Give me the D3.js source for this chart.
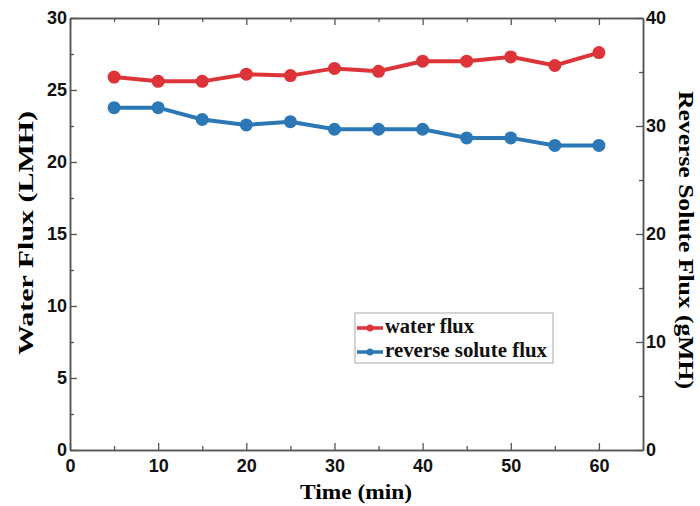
<!DOCTYPE html>
<html>
<head>
<meta charset="utf-8">
<script src="https://cdn.jsdelivr.net/npm/d3@7"></script>
<style>
  body { margin: 0; background: #fff; }
</style>
</head>
<body>
<div id="container"></div>
<script>
// data
const times      = [5, 10, 15, 20, 25, 30, 35, 40, 45, 50, 55, 60];
const waterFlux  = [25.9, 25.6, 25.6, 26.1, 26.0, 26.5, 26.3, 27.0, 27.0, 27.3, 26.7, 27.6];
const soluteFlux = [31.7, 31.7, 30.6, 30.1, 30.4, 29.7, 29.7, 29.7, 28.9, 28.9, 28.2, 28.2];
const xTicks     = [0, 10, 20, 30, 40, 50, 60];
const yLeftTicks = [0, 5, 10, 15, 20, 25, 30];
const yRightTicks = [0, 10, 20, 30, 40];

const width = 700, height = 506;
const margin = { top: 18, right: 57, bottom: 56, left: 70 };
const red  = "#dc3439";
const blue = "#2c77b5";
const axisColor = "#555";

const svg = d3.select("#container").append("svg")
    .attr("width", width)
    .attr("height", height);

const x = d3.scaleLinear().domain([0, 65])
    .range([margin.left, width - margin.right]);
const yL = d3.scaleLinear().domain([0, 30])
    .range([height - margin.bottom, margin.top]);
const yR = d3.scaleLinear().domain([0, 40])
    .range([height - margin.bottom, margin.top]);

// axes: inward ticks, majors labelled, minors in between
function styleAxis(g) {
  g.select(".domain").attr("stroke", axisColor).attr("stroke-width", 1.5);
  g.selectAll(".tick line").attr("stroke", axisColor).attr("stroke-width", 1.3);
  g.selectAll("text")
    .attr("font-family", "Liberation Sans, Arial, sans-serif")
    .attr("font-weight", "bold")
    .attr("font-size", 18)
    .attr("fill", "#111");
}

const xMinor = d3.range(5, 65, 10);
svg.append("g")
    .attr("transform", `translate(0,${height - margin.bottom})`)
    .call(d3.axisBottom(x).tickValues(xTicks).tickSize(-7).tickSizeOuter(0).tickPadding(9))
    .call(styleAxis);
svg.append("g")
    .attr("transform", `translate(0,${height - margin.bottom})`)
    .call(d3.axisBottom(x).tickValues(xMinor).tickSize(-4).tickFormat("").tickSizeOuter(0))
    .call(styleAxis);

svg.append("g")
    .attr("transform", `translate(0,${margin.top})`)
    .call(d3.axisTop(x).tickValues(xTicks).tickSize(-7).tickFormat("").tickSizeOuter(0))
    .call(styleAxis);
svg.append("g")
    .attr("transform", `translate(0,${margin.top})`)
    .call(d3.axisTop(x).tickValues(xMinor).tickSize(-4).tickFormat("").tickSizeOuter(0))
    .call(styleAxis);

svg.append("g")
    .attr("transform", `translate(${margin.left},0)`)
    .call(d3.axisLeft(yL).tickValues(yLeftTicks).tickSize(-7).tickSizeOuter(0).tickPadding(3))
    .call(styleAxis);
svg.append("g")
    .attr("transform", `translate(${margin.left},0)`)
    .call(d3.axisLeft(yL).tickValues(d3.range(2.5, 30, 5)).tickSize(-4).tickFormat("").tickSizeOuter(0))
    .call(styleAxis);

svg.append("g")
    .attr("transform", `translate(${width - margin.right},0)`)
    .call(d3.axisRight(yR).tickValues(yRightTicks).tickSize(-7).tickSizeOuter(0).tickPadding(3))
    .call(styleAxis);
svg.append("g")
    .attr("transform", `translate(${width - margin.right},0)`)
    .call(d3.axisRight(yR).tickValues(d3.range(5, 40, 10)).tickSize(-4).tickFormat("").tickSizeOuter(0))
    .call(styleAxis);

// axis titles (glyphs stretched along the baseline, as in the source)
const serif = "Liberation Serif, Times New Roman, serif";
svg.append("text")
    .attr("x", 356)
    .attr("y", 499)
    .attr("text-anchor", "middle")
    .attr("font-family", serif).attr("font-weight", "bold").attr("font-size", 21)
    .attr("textLength", 112).attr("lengthAdjust", "spacingAndGlyphs")
    .text("Time (min)");

svg.append("text")
    .attr("transform", "translate(33,233) rotate(-90)")
    .attr("text-anchor", "middle")
    .attr("font-family", serif).attr("font-weight", "bold").attr("font-size", 21)
    .attr("textLength", 244).attr("lengthAdjust", "spacingAndGlyphs")
    .text("Water Flux (LMH)");

svg.append("text")
    .attr("transform", "translate(679,240) rotate(90)")
    .attr("text-anchor", "middle")
    .attr("font-family", serif).attr("font-weight", "bold").attr("font-size", 21)
    .attr("textLength", 298).attr("lengthAdjust", "spacingAndGlyphs")
    .text("Reverse Solute Flux (gMH)");

// series
const series = [
  { name: "water flux", values: waterFlux, y: yL, color: red },
  { name: "reverse solute flux", values: soluteFlux, y: yR, color: blue }
];

series.forEach(s => {
  const pts = times.map((t, i) => [t, s.values[i]]);
  svg.append("path")
      .datum(pts)
      .attr("fill", "none")
      .attr("stroke", s.color)
      .attr("stroke-width", 4)
      .attr("d", d3.line().x(d => x(d[0])).y(d => s.y(d[1])));
  svg.append("g").selectAll("circle")
    .data(pts)
    .join("circle")
      .attr("cx", d => x(d[0]))
      .attr("cy", d => s.y(d[1]))
      .attr("r", 6.5)
      .attr("fill", s.color);
});

// legend
const legend = svg.append("g").attr("transform", "translate(355,313)");
legend.append("rect")
    .attr("width", 198).attr("height", 50)
    .attr("fill", "#fff").attr("stroke", "#aaa").attr("stroke-width", 1);
series.forEach((s, i) => {
  const ly = 15 + i * 24;
  legend.append("line")
      .attr("x1", 2).attr("x2", 28).attr("y1", ly).attr("y2", ly)
      .attr("stroke", s.color).attr("stroke-width", 3.5);
  legend.append("circle")
      .attr("cx", 15).attr("cy", ly).attr("r", 3.5).attr("fill", s.color);
  legend.append("text")
      .attr("x", 30).attr("y", ly + 5)
      .attr("font-family", serif).attr("font-weight", "bold").attr("font-size", 20)
      .attr("fill", "#111")
      .attr("textLength", i === 0 ? 89 : 162).attr("lengthAdjust", "spacingAndGlyphs")
      .text(s.name);
});
</script>
</body>
</html>
